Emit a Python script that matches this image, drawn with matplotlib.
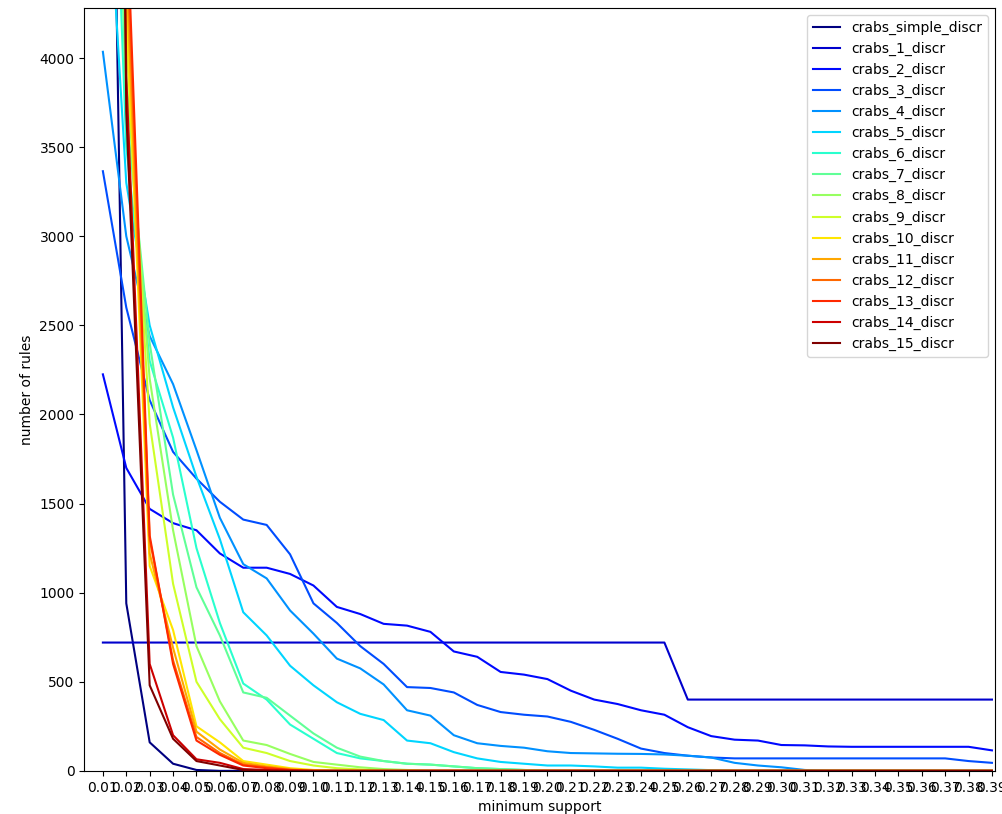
import numpy as np
import matplotlib
import matplotlib.pyplot as plt

support = [round(0.01 * i, 2) for i in range(1, 40)]

def pad(vals, n=39, fill=0):
    return vals + [fill] * (n - len(vals))

crabs_simple = pad([9000, 940, 160, 40, 5])
crabs_1 = [720] * 25 + [400] * 14
crabs_2 = [2225, 1700, 1470, 1390, 1350, 1220, 1140, 1140, 1105, 1040, 920, 880, 825, 815, 780,
           670, 640, 555, 540, 515, 450, 400, 375, 340, 315, 245, 195, 175, 170, 145, 143, 137,
           135, 135, 135, 135, 135, 135, 115]
crabs_3 = [3365, 2600, 2080, 1790, 1640, 1510, 1410, 1380, 1215, 940, 830, 700, 600, 470, 465,
           440, 370, 330, 315, 305, 275, 230, 180, 125, 100, 85, 75, 70, 70, 70, 70, 70,
           70, 70, 70, 70, 70, 55, 45]
crabs_4 = pad([4035, 3000, 2440, 2170, 1800, 1420, 1160, 1080, 900, 770, 630, 575, 485, 340, 310,
               200, 155, 140, 130, 110, 100, 98, 96, 95, 92, 85, 75, 45, 30, 20, 5])
crabs_5 = pad([5500, 3300, 2500, 2040, 1650, 1300, 890, 760, 590, 480, 385, 320, 285, 170, 155,
               105, 70, 50, 40, 30, 30, 25, 18, 18, 12, 8, 4])
crabs_6 = pad([7000, 3500, 2300, 1870, 1250, 830, 490, 400, 260, 180, 100, 70, 55, 40, 35, 25, 15, 10, 5])
crabs_7 = pad([8000, 3700, 2400, 1550, 1030, 760, 440, 410, 310, 210, 130, 80, 55, 40, 35, 25, 15, 10, 5])
crabs_8 = pad([9000, 3900, 2200, 1350, 700, 390, 170, 145, 95, 50, 35, 20, 10, 5])
crabs_9 = pad([10000, 4100, 1950, 1050, 500, 290, 130, 100, 55, 30, 15, 8])
crabs_10 = pad([11000, 4300, 1150, 790, 250, 160, 55, 35, 15, 5])
crabs_11 = pad([12000, 4500, 1220, 690, 220, 120, 45, 25, 10])
crabs_12 = pad([13000, 4700, 1300, 620, 190, 100, 35, 20, 5])
crabs_13 = pad([14000, 4900, 1320, 600, 170, 90, 30, 15, 5])
crabs_14 = pad([15000, 3900, 600, 200, 65, 45, 10, 5])
crabs_15 = pad([16000, 3700, 480, 180, 55, 30, 5])

series = [crabs_simple, crabs_1, crabs_2, crabs_3, crabs_4, crabs_5, crabs_6, crabs_7,
          crabs_8, crabs_9, crabs_10, crabs_11, crabs_12, crabs_13, crabs_14, crabs_15]
names = ['crabs_simple_discr'] + ['crabs_%d_discr' % i for i in range(1, 16)]

fig, ax = plt.subplots(figsize=(10.02, 8.14), dpi=100)
cmap = matplotlib.colormaps['jet']
for i, (name, vals) in enumerate(zip(names, series)):
    ax.plot(support, vals, color=cmap(i / (len(series) - 1)), label=name)

ax.set_xticks(support)
ax.set_xticklabels(['%.2f' % s for s in support])
ax.set_xlim(0.002, 0.3913)
ax.set_ylim(0, 4280)
ax.set_xlabel('minimum support')
ax.set_ylabel('number of rules')
ax.legend(loc='upper right')
plt.subplots_adjust(left=0.084, right=0.993, top=0.99, bottom=0.053)
plt.savefig('out.png')
